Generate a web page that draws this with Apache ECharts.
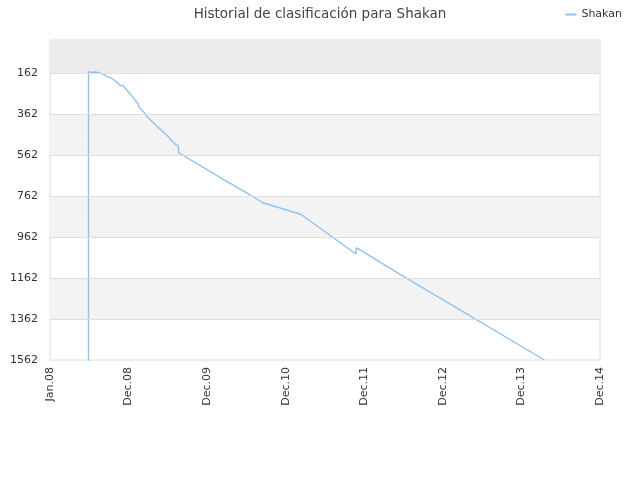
<!DOCTYPE html>
<html>
<head>
<meta charset="utf-8">
<script src="https://cdn.jsdelivr.net/npm/echarts@6/dist/echarts.min.js"></script>
<style>html,body{margin:0;padding:0;background:#fff}#c{width:640px;height:480px}</style>
</head>
<body>
<div id="c"></div>
<script>
var xLabels = ['Jan.08','Dec.08','Dec.09','Dec.10','Dec.11','Dec.12','Dec.13','Dec.14'];
var yTicks = [162,362,562,762,962,1162,1362,1562];
var bandRanges = [[1,162],[362,562],[762,962],[1162,1362]];
var timePos = [0.49,0.49,0.509,0.535,0.573,0.611,0.636,0.675,0.722,0.776,0.827,0.853,0.882,0.904,0.933,0.976,1.031,1.082,1.124,1.133,1.171,1.231,1.285,1.358,1.476,1.604,1.633,1.638,1.655,2.227,2.546,2.707,3.191,3.895,3.898,4.455,6.293];
var rank = [1600,156,155,159,157,159,161,167,177,186,200,206,221,228,225,245,269,294,313,329,342,372,394,421,462,513,518,551,557,686,757,795,851,1045,1014,1144,1562];

var pts = timePos.map(function(x,i){return [x, rank[i]];});
var bandData = bandRanges.map(function(r,i){
  return [{yAxis:r[0], itemStyle:{color: i===0 ? '#ececec' : '#f3f3f3'}},{yAxis:r[1]}];
});
var lineData = yTicks.slice(0,-1).map(function(v){return {yAxis:v};});

var chart = echarts.init(document.getElementById('c'));
chart.setOption({
  animation:false,
  textStyle:{fontFamily:'DejaVu Sans'},
  title:{text:'Historial de clasificación para Shakan',left:'center',top:2,
    textStyle:{fontSize:13.5,fontWeight:'normal',color:'#444',fontFamily:'DejaVu Sans'}},
  legend:{right:13,top:4,icon:'rect',itemWidth:11,itemHeight:2,itemGap:5,
    textStyle:{fontSize:11,color:'#333',fontFamily:'DejaVu Sans'},data:['Shakan']},
  grid:{left:50,right:40,top:40,bottom:120,show:true,borderColor:'#dcdcdc',borderWidth:1,backgroundColor:'#fff'},
  xAxis:{type:'value',min:0,max:7,interval:1,
    axisLine:{show:false},axisTick:{show:false},splitLine:{show:false},
    axisLabel:{rotate:90,fontSize:11,color:'#333',margin:7,
      formatter:function(v){return xLabels[Math.round(v)]||'';}}},
  yAxis:{type:'value',inverse:true,min:1,max:1562,
    axisLine:{show:false},axisTick:{show:false},splitLine:{show:false},
    axisLabel:{customValues:yTicks,fontSize:11,color:'#333',margin:12,
      formatter:function(v){return String(v);}}},
  series:[
    {type:'line',name:'bands',data:[],silent:true,z:1,
      markArea:{silent:true,data:bandData},
      markLine:{silent:true,symbol:'none',label:{show:false},
        lineStyle:{color:'#dedede',type:'solid',width:1},data:lineData}},
    {type:'line',name:'Shakan',data:pts,showSymbol:false,z:3,clip:true,
      lineStyle:{color:'#8fc1f2',width:1.4},itemStyle:{color:'#8fc1f2'}}
  ]
});
</script>
</body>
</html>
